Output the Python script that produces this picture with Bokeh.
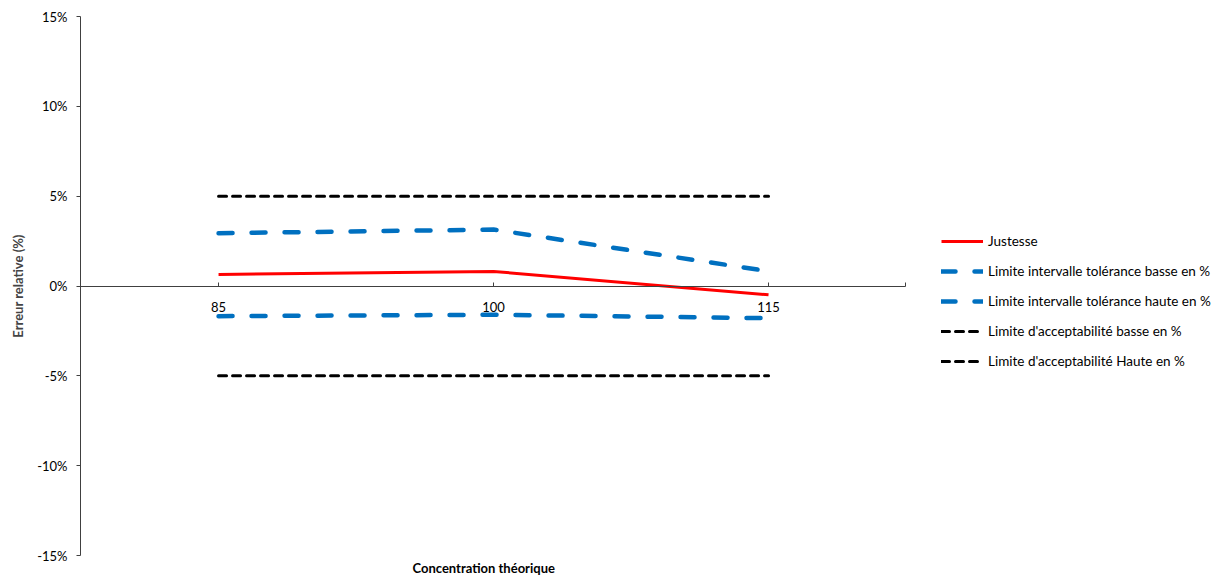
from bokeh.plotting import figure
from bokeh.models import Range1d, FixedTicker, PrintfTickFormatter, Legend, LegendItem, Title
from bokeh.embed import file_html
from bokeh.resources import INLINE

# Data
concentrations = [85, 100, 115]
justesse = [0.64, 0.81, -0.49]
tol_basse = [-1.68, -1.60, -1.79]
tol_haute = [2.94, 3.14, 0.82]
acc_basse = [-5, -5, -5]
acc_haute = [5, 5, 5]
y_ticks = [-15, -10, -5, 0, 5, 10, 15]

FONT = "Lato"
x_min, x_axis_end, x_max = 77.47, 122.47, 139.38

p = figure(width=1220, height=578,
           x_range=Range1d(x_min, x_max), y_range=Range1d(-15, 15),
           output_backend="svg", toolbar_location=None,
           min_border_left=80, min_border_top=16, min_border_bottom=23, min_border_right=5)
p.grid.visible = False
p.outline_line_color = None
p.background_fill_color = "white"
p.border_fill_color = "white"

r_just = p.line(concentrations, justesse, line_color="#FF0000", line_width=3)
r_tb = p.line(concentrations, tol_basse, line_color="#0070C0", line_width=4.5,
              line_dash="14 19", line_cap="round")
r_th = p.line(concentrations, tol_haute, line_color="#0070C0", line_width=4.5,
              line_dash="14 19", line_cap="round")
r_ab = p.line(concentrations, acc_basse, line_color="black", line_width=3,
              line_dash="8 6", line_cap="round")
r_ah = p.line(concentrations, acc_haute, line_color="black", line_width=3,
              line_dash="8 6", line_cap="round")

# x axis at y = 0
xa = p.xaxis[0]
xa.fixed_location = 0
xa.ticker = FixedTicker(ticks=concentrations, minor_ticks=[x_axis_end])
xa.bounds = (x_min, x_axis_end)
xa.major_tick_in = 4
xa.major_tick_out = 0
xa.minor_tick_in = 4
xa.minor_tick_out = 0
xa.axis_line_color = "#404040"
xa.major_tick_line_color = "#404040"
xa.minor_tick_line_color = "#404040"
xa.major_label_standoff = 16
xa.major_label_text_font = FONT
xa.major_label_text_font_size = "13px"
xa.major_label_text_color = "black"

ya = p.yaxis[0]
ya.ticker = FixedTicker(ticks=y_ticks, minor_ticks=[])
ya.formatter = PrintfTickFormatter(format="%d%%")
ya.major_tick_out = 4
ya.major_tick_in = 0
ya.minor_tick_out = 0
ya.axis_line_color = "#404040"
ya.major_tick_line_color = "#404040"
ya.major_label_standoff = 9
ya.major_label_text_font = FONT
ya.major_label_text_font_size = "13px"
ya.major_label_text_color = "black"
ya.axis_label = "Erreur relative (%)"
ya.axis_label_text_font = FONT
ya.axis_label_text_font_style = "bold"
ya.axis_label_text_font_size = "13px"
ya.axis_label_standoff = 8

xtitle = Title(text="Concentration théorique", align="left", offset=332,
               text_font=FONT, text_font_style="bold", text_font_size="13px",
               text_color="black", standoff=4)
p.add_layout(xtitle, "below")

legend = Legend(items=[
    LegendItem(label="Justesse", renderers=[r_just]),
    LegendItem(label="Limite intervalle tolérance basse en %", renderers=[r_tb]),
    LegendItem(label="Limite intervalle tolérance haute en %", renderers=[r_th]),
    LegendItem(label="Limite d'acceptabilité basse en %", renderers=[r_ab]),
    LegendItem(label="Limite d'acceptabilité Haute en %", renderers=[r_ah]),
], location=(861, 184))
legend.padding = 0
legend.margin = 0
legend.spacing = 10
legend.glyph_width = 42
legend.glyph_height = 20
legend.label_height = 20
legend.label_standoff = 5
legend.label_text_font = FONT
legend.label_text_font_size = "13.5px"
legend.label_text_color = "black"
legend.border_line_color = None
legend.background_fill_alpha = 0
p.add_layout(legend)

open("out.html", "w").write(file_html(p, INLINE))
